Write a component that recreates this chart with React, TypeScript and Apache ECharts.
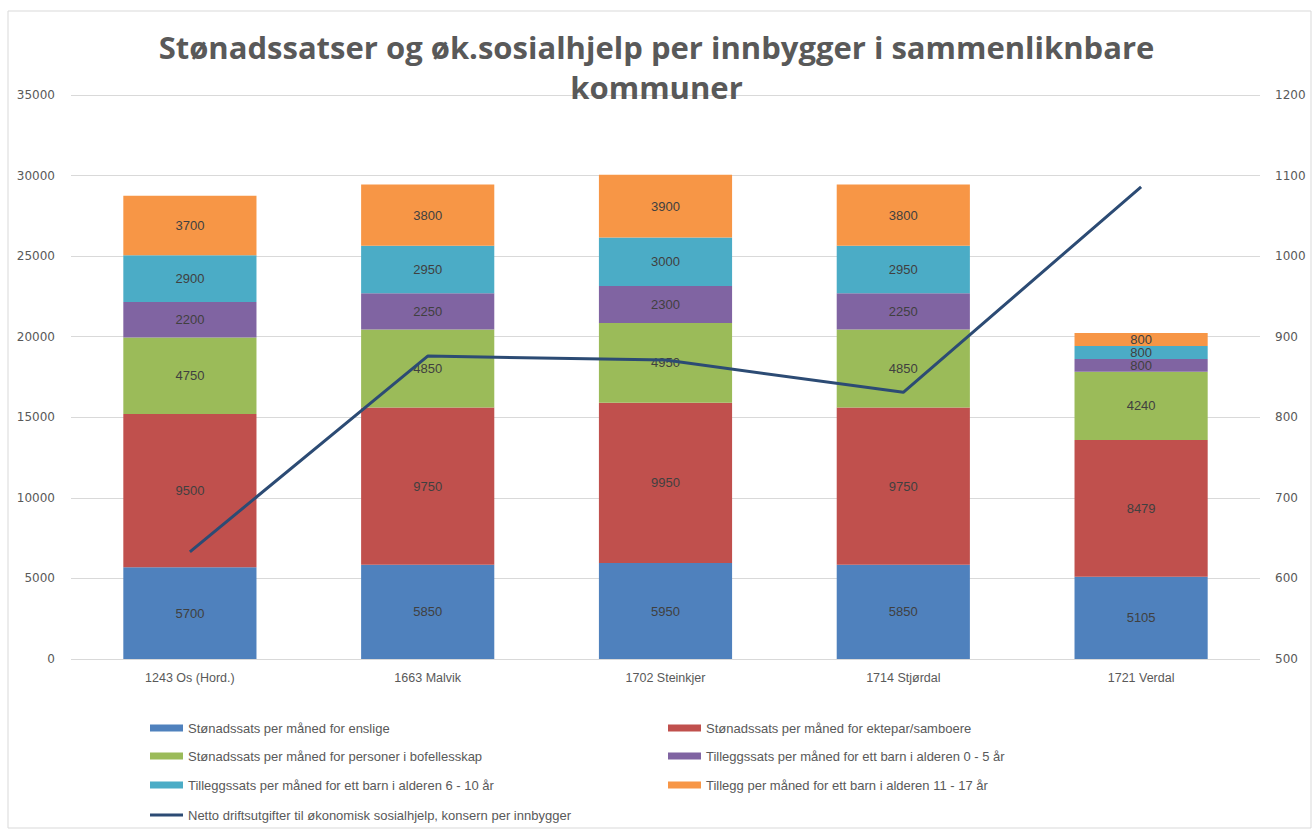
import React, { useEffect, useRef } from "react";
import * as echarts from "echarts";

const categories = ["1243 Os (Hord.)", "1663 Malvik", "1702 Steinkjer", "1714 Stjørdal", "1721 Verdal"];
const seriesNames = [
  "Stønadssats per måned for enslige",
  "Stønadssats per måned for ektepar/samboere",
  "Stønadssats per måned for personer i bofellesskap",
  "Tilleggssats per måned for ett barn i alderen 0 - 5 år",
  "Tilleggssats per måned for ett barn i alderen 6 - 10 år",
  "Tillegg per måned for ett barn i alderen 11 - 17 år",
];
const lineName = "Netto driftsutgifter til økonomisk sosialhjelp, konsern per innbygger";
const enslige = [5700, 5850, 5950, 5850, 5105];
const ektepar = [9500, 9750, 9950, 9750, 8479];
const bofellesskap = [4750, 4850, 4950, 4850, 4240];
const barn0to5 = [2200, 2250, 2300, 2250, 800];
const barn6to10 = [2900, 2950, 3000, 2950, 800];
const barn11to17 = [3700, 3800, 3900, 3800, 800];
const nettoDrift = [633, 876, 871, 831, 1086];
const colors = ["#4F81BD", "#C0504D", "#9BBB59", "#8064A2", "#4BACC6", "#F79646"];
const lineColor = "#2C4B74";

export default function App() {
  const ref = useRef<HTMLDivElement>(null);
  useEffect(() => {
    if (!ref.current) return;
    const chart = echarts.init(ref.current, null, { renderer: "svg" });
    const barData = [enslige, ektepar, bofellesskap, barn0to5, barn6to10, barn11to17];
    const font = "'Liberation Sans', Arial, sans-serif";
    const barSeries = barData.map((d, i) => ({
      name: seriesNames[i],
      type: "bar",
      stack: "total",
      yAxisIndex: 0,
      barWidth: "56%",
      data: d,
      itemStyle: { color: colors[i] },
      label: {
        show: true,
        position: "inside",
        color: "#404040",
        fontSize: 13,
        fontFamily: font,
      },
    }));
    const legendItems: [string, number, number][] = [
      [seriesNames[0], 150, 728],
      [seriesNames[1], 668, 728],
      [seriesNames[2], 150, 756],
      [seriesNames[3], 668, 756],
      [seriesNames[4], 150, 785],
      [seriesNames[5], 668, 785],
      [lineName, 150, 815],
    ];
    const legends = legendItems.map(([name, left, y]) => ({
      data: [{ name, icon: "rect" }],
      left,
      top: y - 7,
      padding: 0,
      itemWidth: 33,
      itemHeight: name === lineName ? 3 : 7,
      selectedMode: false,
      textStyle: { color: "#595959", fontSize: 13, fontFamily: font, lineHeight: 14 },
    }));
    const plain = (v: number) => String(v);
    chart.setOption({
      animation: false,
      backgroundColor: "#fff",
      title: {
        text: "Stønadssatser og øk.sosialhjelp per innbygger i sammenliknbare\nkommuner",
        left: "center",
        top: 22,
        textStyle: {
          fontFamily: "'Open Sans', sans-serif",
          fontWeight: "bold",
          fontSize: 31,
          lineHeight: 40,
          color: "#595959",
        },
      },
      graphic: [
        {
          type: "rect",
          shape: { x: 8, y: 11, width: 1303, height: 817 },
          style: { fill: "none", stroke: "#D9D9D9", lineWidth: 1 },
          silent: true,
        },
      ],
      legend: legends,
      grid: { left: 71, right: 53, top: 95, bottom: 171 },
      xAxis: {
        type: "category",
        data: categories,
        axisLine: { show: false },
        axisTick: { show: false },
        axisLabel: { color: "#595959", fontSize: 12.5, fontFamily: font, margin: 12 },
      },
      yAxis: [
        {
          type: "value",
          min: 0,
          max: 35000,
          interval: 5000,
          axisLine: { show: false },
          axisTick: { show: false },
          splitLine: { lineStyle: { color: "#D9D9D9" } },
          axisLabel: { color: "#595959", fontSize: 12, fontFamily: "'DejaVu Sans', sans-serif", margin: 16, formatter: plain },
        },
        {
          type: "value",
          min: 500,
          max: 1200,
          interval: 100,
          position: "right",
          axisLine: { show: false },
          axisTick: { show: false },
          splitLine: { show: false },
          axisLabel: { color: "#595959", fontSize: 12, fontFamily: "'DejaVu Sans', sans-serif", margin: 15, formatter: plain },
        },
      ],
      series: [
        ...barSeries,
        {
          name: lineName,
          type: "line",
          yAxisIndex: 1,
          data: nettoDrift,
          showSymbol: false,
          symbol: "none",
          itemStyle: { color: lineColor },
          lineStyle: { color: lineColor, width: 3 },
          z: 5,
        },
      ],
    });
    return () => chart.dispose();
  }, []);
  return (
    <div
      ref={ref}
      style={{ position: "absolute", left: 0, top: 0, width: 1313, height: 830 }}
    />
  );
}
